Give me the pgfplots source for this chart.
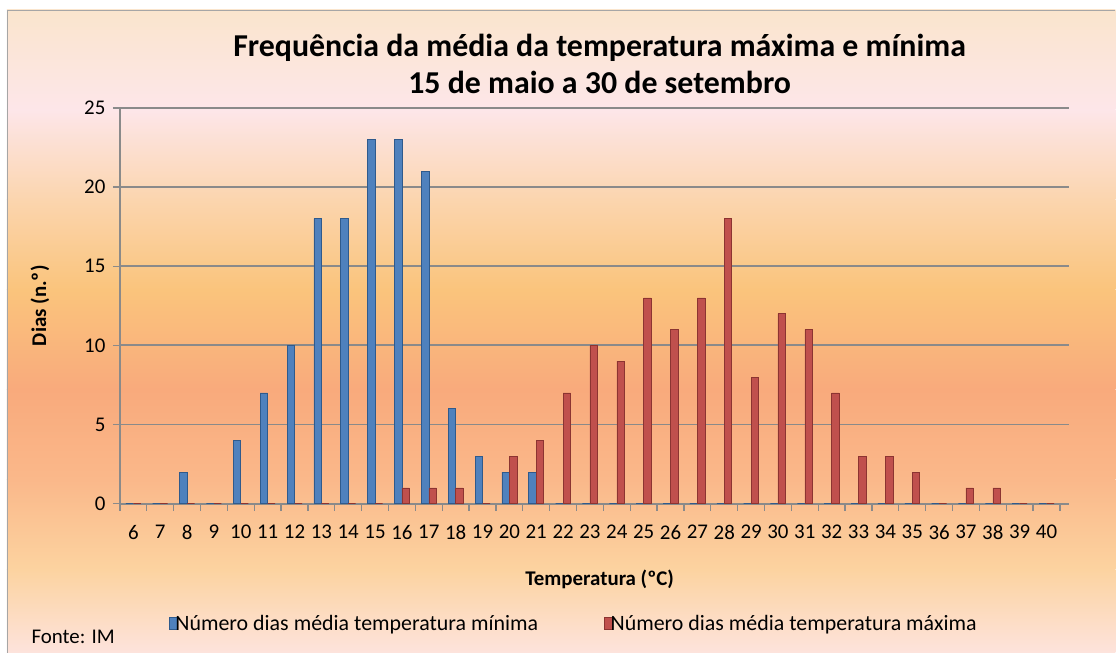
\documentclass[border=0pt]{standalone}
\usepackage{pgfplots}
\pgfplotsset{compat=1.18}
\usepackage{fontspec}
\setmainfont{Carlito}
\definecolor{bluebar}{HTML}{4F81BD}
\definecolor{blueedge}{HTML}{2F5A8C}
\definecolor{redbar}{HTML}{C0504D}
\definecolor{rededge}{HTML}{8C3431}
\definecolor{gridgray}{HTML}{8A8A8A}
\definecolor{g1}{HTML}{FAE5CD}
\definecolor{g2}{HTML}{FDE6E9}
\definecolor{g3}{HTML}{FBD5AE}
\definecolor{g4}{HTML}{FAC47C}
\definecolor{g5}{HTML}{F9AA7C}
\definecolor{g6}{HTML}{FAB88A}
\definecolor{g7}{HTML}{FCD3A0}
\definecolor{g8}{HTML}{FDE3DC}
\begin{document}
\begin{tikzpicture}
\fill[white] (0bp,0bp) rectangle (1116bp,653bp);
\shade[top color=g1, bottom color=g2] (7bp,643bp) rectangle (1116bp,543bp);
\shade[top color=g2, bottom color=g3] (7bp,543.2bp) rectangle (1116bp,453bp);
\shade[top color=g3, bottom color=g4] (7bp,453.2bp) rectangle (1116bp,363bp);
\shade[top color=g4, bottom color=g5] (7bp,363.2bp) rectangle (1116bp,263bp);
\shade[top color=g5, bottom color=g6] (7bp,263.2bp) rectangle (1116bp,173bp);
\shade[top color=g6, bottom color=g7] (7bp,173.2bp) rectangle (1116bp,83bp);
\shade[top color=g7, bottom color=g8] (7bp,83.2bp) rectangle (1116bp,0bp);
\draw[gray!70, line width=1.3bp] (7.5bp,0bp) -- (7.5bp,642.5bp) -- (1116bp,642.5bp);

\node[align=center, font=\bfseries\fontsize{32}{37}\selectfont] at (600bp,589bp) {Frequência da média da temperatura máxima e mínima\\15 de maio a 30 de setembro};
\node[anchor=west, font=\fontsize{21}{24}\selectfont] at (28bp,16bp) {Fonte: IM};

\begin{axis}[
  at={(120bp,149bp)}, anchor=south west,
  scale only axis, width=950bp, height=396bp,
  xmin=5.5, xmax=40.85, ymin=0, ymax=25,
  ybar=0pt, bar width=7.5bp,
  axis lines*=left,
  axis line style={draw=gridgray, line width=1.6bp},
  ytick={0,5,...,25},
  ymajorgrids, grid style={draw=gridgray, line width=1.8bp},
  xtick={5.5,6.5,...,40.5}, xticklabels={},
  extra x ticks={6,...,40},
  extra x tick style={major tick length=0pt, grid=none},
  tick align=outside, major tick length=7bp,
  tick style={draw=gridgray, line width=1.3bp},
  /pgf/number format/assume math mode=true,
  ticklabel style={font=\fontsize{21}{24}\selectfont},
  xticklabel style={yshift=-18bp},
  yticklabel style={xshift=-4bp},
  xlabel={Temperatura (ºC)},
  ylabel={Dias (n.º)},
  every axis x label/.style={at={(axis description cs:0.5,0)}, anchor=center, yshift=-76bp, xshift=5bp, font=\bfseries\fontsize{21}{24}\selectfont},
  every axis y label/.style={at={(axis description cs:-0.0842,0.5)}, anchor=center, rotate=90, font=\bfseries\fontsize{21}{24}\selectfont},
  legend columns=2,
  legend style={at={(axis description cs:0.48,0)}, anchor=center, xshift=-2bp, yshift=-120bp, draw=none, fill=none,
    font=\fontsize{22}{24}\selectfont, /tikz/every even column/.append style={column sep=64bp},
    /tikz/every odd column/.append style={column sep=-4bp}},
  legend image code/.code={\fill[#1] (0bp,-6bp) rectangle (8bp,6bp);},
]
\addplot[fill=bluebar, draw=blueedge, line width=0.6bp] coordinates {
(6,0) (7,0) (8,2) (9,0) (10,4) (11,7) (12,10) (13,18) (14,18) (15,23) (16,23) (17,21) (18,6) (19,3) (20,2) (21,2)
(22,0) (23,0) (24,0) (25,0) (26,0) (27,0) (28,0) (29,0) (30,0) (31,0) (32,0) (33,0) (34,0) (35,0) (36,0) (37,0) (38,0) (39,0) (40,0)};
\addplot[fill=redbar, draw=rededge, line width=0.6bp] coordinates {
(6,0) (7,0) (8,0) (9,0) (10,0) (11,0) (12,0) (13,0) (14,0) (15,0) (16,1) (17,1) (18,1) (19,0) (20,3) (21,4)
(22,7) (23,10) (24,9) (25,13) (26,11) (27,13) (28,18) (29,8) (30,12) (31,11) (32,7) (33,3) (34,3) (35,2) (36,0) (37,1) (38,1) (39,0) (40,0)};
\legend{Número dias média temperatura mínima, Número dias média temperatura máxima}
\end{axis}
\end{tikzpicture}
\end{document}
